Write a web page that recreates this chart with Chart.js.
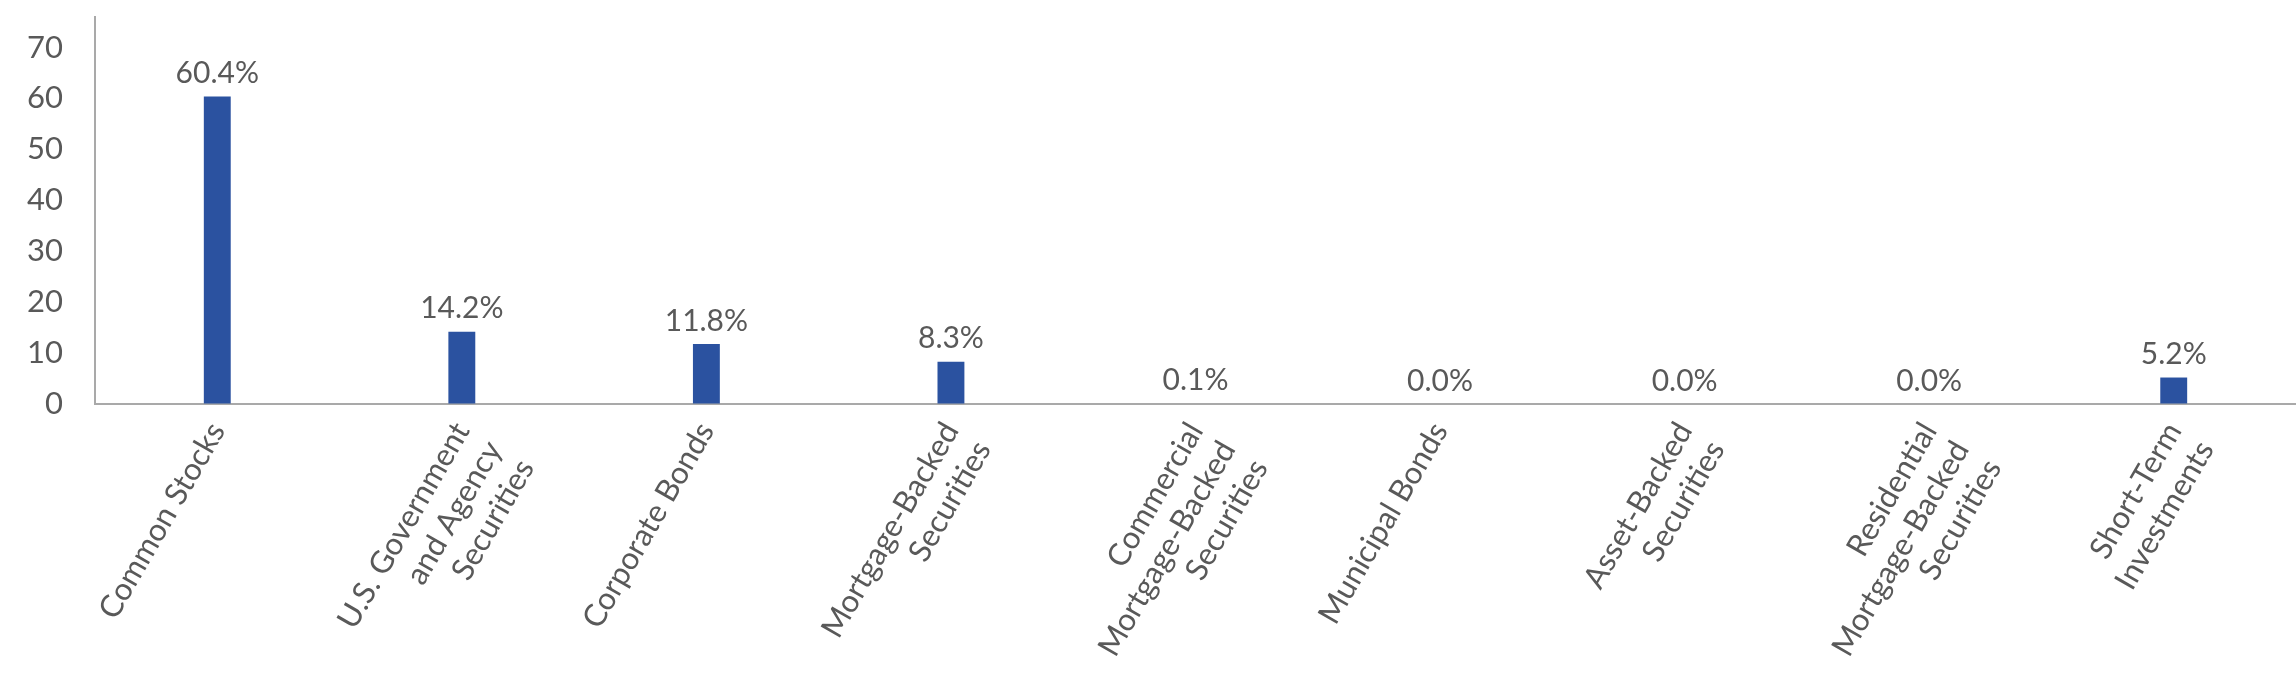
<!DOCTYPE html>
<html>
<head>
<meta charset="utf-8">
<script src="https://cdn.jsdelivr.net/npm/chart.js@4"></script>
<style>
  html, body { margin: 0; padding: 0; background: #fff; }
  #wrap { width: 2296px; height: 692px; }
</style>
</head>
<body>
<div id="wrap"><canvas id="allocChart" width="2296" height="692"></canvas></div>
<script>
// asset categories, multi-line as in the original
const categories = [
  ['Common Stocks'],
  ['U.S. Government', 'and Agency', 'Securities'],
  ['Corporate Bonds'],
  ['Mortgage-Backed', 'Securities'],
  ['Commercial', 'Mortgage-Backed', 'Securities'],
  ['Municipal Bonds'],
  ['Asset-Backed', 'Securities'],
  ['Residential', 'Mortgage-Backed', 'Securities'],
  ['Short-Term', 'Investments']
];
const allocation = [60.4, 14.2, 11.8, 8.3, 0.1, 0.0, 0.0, 0.0, 5.2];
const yTicks = [0, 10, 20, 30, 40, 50, 60, 70];

const textColor = '#595959';
const axisColor = '#a9a9a9';
const fontFamily = 'Lato, "Open Sans", sans-serif';

// simple value labels above each bar
const valueLabels = {
  id: 'valueLabels',
  afterDatasetsDraw(chart) {
    const ctx = chart.ctx;
    const meta = chart.getDatasetMeta(0);
    ctx.save();
    ctx.font = '30px ' + fontFamily;
    ctx.fillStyle = textColor;
    ctx.textAlign = 'center';
    ctx.textBaseline = 'bottom';
    meta.data.forEach(function (bar, i) {
      ctx.fillText(allocation[i].toFixed(1) + '%', bar.x, bar.y - 8);
    });
    ctx.restore();
  }
};

const ctx = document.getElementById('allocChart').getContext('2d');
new Chart(ctx, {
  type: 'bar',
  data: {
    labels: categories,
    datasets: [{
      data: allocation,
      backgroundColor: '#2B52A0',
      barPercentage: 0.11,
      categoryPercentage: 1
    }]
  },
  options: {
    responsive: false,
    animation: false,
    layout: { padding: { top: 17, right: 0, left: 0, bottom: 0 } },
    plugins: {
      legend: { display: false },
      tooltip: { enabled: false }
    },
    scales: {
      x: {
        grid: { color: 'transparent', drawTicks: false },
        border: { display: true, color: axisColor, width: 2 },
        ticks: {
          color: textColor,
          font: { family: fontFamily, size: 31 },
          minRotation: 60,
          maxRotation: 60,
          padding: 12,
          autoSkip: false
        },
        afterFit(axis) {
          axis.height = 288;
          axis.paddingLeft = 0;
          axis.paddingRight = 0;
        }
      },
      y: {
        min: 0,
        max: 76,
        grid: { color: 'transparent', drawTicks: false },
        border: { display: true, color: axisColor, width: 2 },
        ticks: {
          color: textColor,
          font: { family: fontFamily, size: 31 },
          padding: 32
        },
        afterBuildTicks(axis) {
          axis.ticks = yTicks.map(v => ({ value: v }));
        },
        afterFit(axis) {
          axis.width = 95;
          axis.paddingTop = 0;
          axis.paddingBottom = 0;
        }
      }
    }
  },
  plugins: [valueLabels]
});
</script>
</body>
</html>
